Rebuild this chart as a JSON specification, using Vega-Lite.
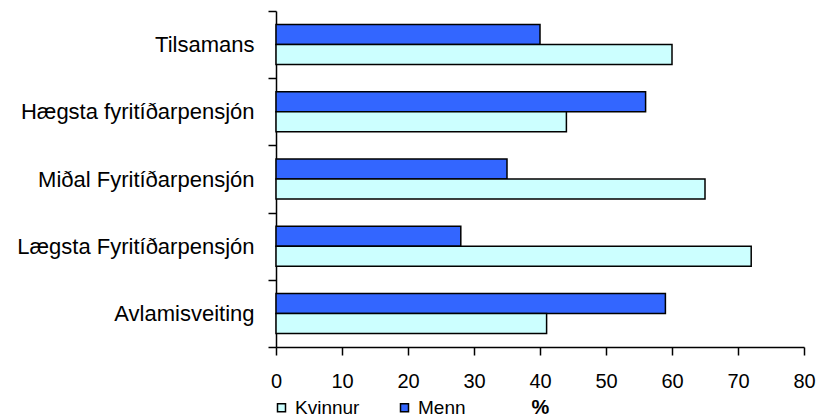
{
  "$schema": "https://vega.github.io/schema/vega-lite/v6.json",
  "width": 528,
  "height": 336,
  "autosize": "none",
  "padding": {"left": 276, "top": 11, "right": 14, "bottom": 71},
  "background": "white",
  "data": {
    "values": [
      {"cat": "Tilsamans", "sex": "Menn", "value": 40},
      {"cat": "Tilsamans", "sex": "Kvinnur", "value": 60},
      {"cat": "Hægsta fyritíðarpensjón", "sex": "Menn", "value": 56},
      {"cat": "Hægsta fyritíðarpensjón", "sex": "Kvinnur", "value": 44},
      {"cat": "Miðal Fyritíðarpensjón", "sex": "Menn", "value": 35},
      {"cat": "Miðal Fyritíðarpensjón", "sex": "Kvinnur", "value": 65},
      {"cat": "Lægsta Fyritíðarpensjón", "sex": "Menn", "value": 28},
      {"cat": "Lægsta Fyritíðarpensjón", "sex": "Kvinnur", "value": 72},
      {"cat": "Avlamisveiting", "sex": "Menn", "value": 59},
      {"cat": "Avlamisveiting", "sex": "Kvinnur", "value": 41}
    ]
  },
  "mark": {"type": "bar", "stroke": "black", "strokeWidth": 1.5},
  "encoding": {
    "y": {
      "field": "cat",
      "type": "nominal",
      "sort": ["Tilsamans", "Hægsta fyritíðarpensjón", "Miðal Fyritíðarpensjón", "Lægsta Fyritíðarpensjón", "Avlamisveiting"],
      "scale": {"paddingInner": 0, "paddingOuter": 0},
      "axis": {
        "title": null,
        "tickBand": "extent",
        "labelFont": "Liberation Sans",
        "labelFontSize": 22,
        "labelColor": "black",
        "labelPadding": 14,
        "labelLimit": 400,
        "domainColor": "black",
        "domainWidth": 1.5,
        "tickColor": "black",
        "tickWidth": 1.5,
        "tickSize": 8
      }
    },
    "yOffset": {
      "field": "sex",
      "sort": ["Menn", "Kvinnur"],
      "scale": {"paddingInner": 0, "paddingOuter": 0.68}
    },
    "x": {
      "field": "value",
      "type": "quantitative",
      "scale": {"domain": [0, 80], "nice": false},
      "axis": {
        "values": [0, 10, 20, 30, 40, 50, 60, 70, 80],
        "grid": false,
        "title": "%",
        "titleFont": "Liberation Sans",
        "titleFontSize": 20,
        "titleFontWeight": "bold",
        "titleColor": "black",
        "titlePadding": 6,
        "labelFont": "Liberation Sans",
        "labelFontSize": 20,
        "labelColor": "black",
        "labelPadding": 16,
        "labelFlush": false,
        "domainColor": "black",
        "domainWidth": 1.5,
        "tickColor": "black",
        "tickWidth": 1.5,
        "tickSize": 8
      }
    },
    "color": {
      "field": "sex",
      "type": "nominal",
      "scale": {"domain": ["Kvinnur", "Menn"], "range": ["#CCFFFF", "#3366FF"]},
      "legend": {
        "orient": "none",
        "direction": "horizontal",
        "legendX": -4,
        "legendY": 387,
        "title": null,
        "padding": 0,
        "symbolType": "square",
        "symbolSize": 64,
        "symbolStrokeColor": "black",
        "symbolStrokeWidth": 1.5,
        "symbolOpacity": 1,
        "labelFont": "Liberation Sans",
        "labelFontSize": 19,
        "labelColor": "black",
        "labelOffset": 4,
        "columnPadding": 35
      }
    }
  },
  "config": {"view": {"stroke": null}}
}
